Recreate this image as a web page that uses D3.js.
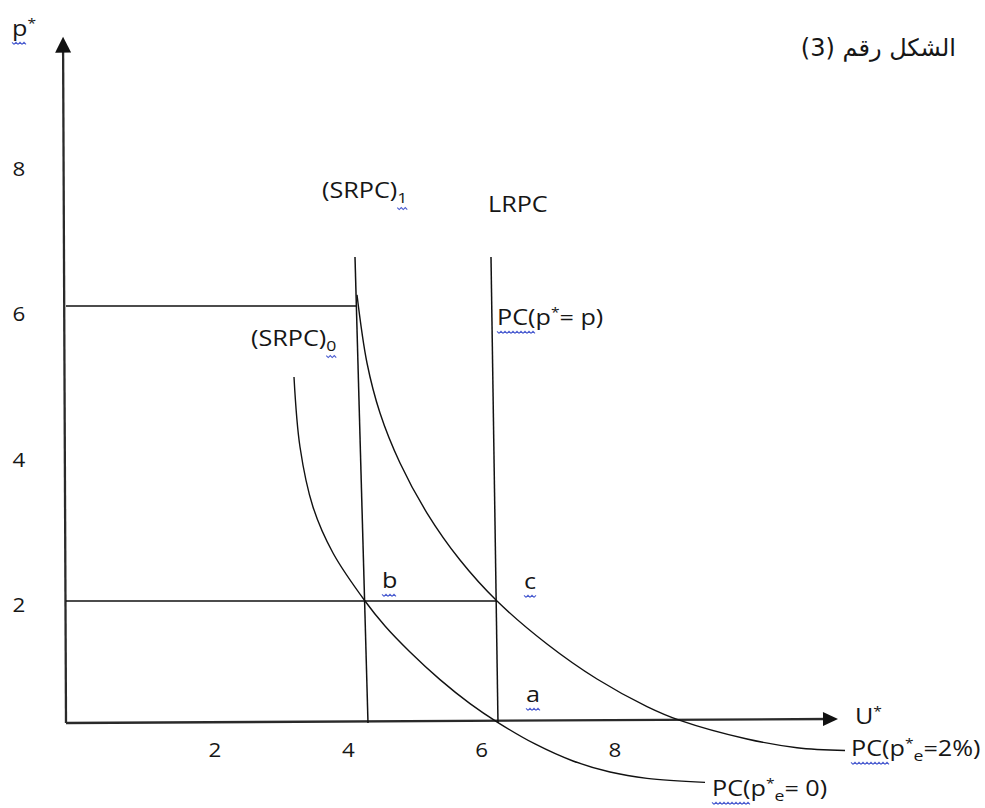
<!DOCTYPE html>
<html>
<head>
<meta charset="utf-8">
<script src="https://cdn.jsdelivr.net/npm/d3@7"></script>
<style>
  html, body { margin: 0; padding: 0; background: #fff; }
  svg { display: block; }
  text { font-family: "Open Sans", "Lato", sans-serif; fill: #161616; }
</style>
</head>
<body>
<svg id="chart" width="985" height="808"></svg>
<script>
// ---------- data (economic units) ----------
const xTickVals = [2, 4, 6, 8];
const yTickVals = [2, 4, 6, 8];

// PC(p*e = 2%) short-run Phillips curve (SRPC)1
const pc2U = [4.145, 4.295, 4.49, 4.79, 5.195, 5.69, 6.245, 6.995, 7.745, 8.495, 8.99, 9.995, 10.745, 11.465];
const pc2P = [6.15, 5.227, 4.549, 3.871, 3.193, 2.556, 2.0, 1.295, 0.721, 0.27, 0.043, -0.262, -0.405, -0.452];

// PC(p*e = 0) short-run Phillips curve (SRPC)0
const pc0U = [3.2, 3.29, 3.485, 3.785, 4.265, 4.565, 4.94, 5.39, 5.84, 6.26, 6.815, 7.385, 7.94, 8.495, 9.365];
const pc0P = [5.037, 4.088, 3.275, 2.651, 2.0, 1.59, 1.164, 0.711, 0.318, 0.007, -0.344, -0.623, -0.803, -0.907, -0.974];

// vertical guide (SRPC)1 and LRPC
const srpc1U = [4.115, 4.31];
const srpc1P = [6.662, 0];
const lrpcU = [6.155, 6.26];
const lrpcP = [6.662, 0];

// horizontal guides at p* = 6 and p* = 2
const hLevels = [6, 2];
const hEnds = [4.145, 6.245];

// axes extents
const xAxisU = [0, 11.36];
const xAxisP = [0, 0.066];
const yAxisU = [0, -0.04];
const yAxisP = [0, 9.64];

// ---------- scales ----------
const x = d3.scaleLinear().domain([0, 2, 8]).range([66, 214, 614]);
const y = d3.scaleLinear().domain([0, 2, 6, 8]).range([723, 601, 306, 158]);
// tick labels were typed slightly off the drawn grid in the original
const yLab = d3.scaleLinear().domain([2, 8]).range([605, 169]);

const svg = d3.select("#chart");
svg.append("rect").attr("width", 985).attr("height", 808).attr("fill", "#fff");

const line = d3.line().x(d => x(d[0])).y(d => y(d[1]));
const smooth = d3.line().x(d => x(d[0])).y(d => y(d[1])).curve(d3.curveCatmullRom.alpha(0.5));

const g = svg.append("g");

// axes
function arrowAxis(us, ps, len, half) {
  const x0 = x(us[0]), y0 = y(ps[0]), x1 = x(us[1]), y1 = y(ps[1]);
  const ang = Math.atan2(y1 - y0, x1 - x0);
  g.append("line").attr("x1", x0).attr("y1", y0)
    .attr("x2", x1 - Math.cos(ang) * len * 0.6).attr("y2", y1 - Math.sin(ang) * len * 0.6)
    .attr("stroke", "#2a2a2a").attr("stroke-width", 2.3);
  const bx = x1 - Math.cos(ang) * len, by = y1 - Math.sin(ang) * len;
  const nx = -Math.sin(ang) * half, ny = Math.cos(ang) * half;
  g.append("path").attr("d", `M${x1},${y1}L${bx + nx},${by + ny}L${bx - nx},${by - ny}Z`).attr("fill", "#111");
}
arrowAxis(xAxisU, xAxisP, 15, 7);
arrowAxis(yAxisU, yAxisP, 16, 8);

// guides
hLevels.forEach((lv, i) => {
  g.append("path").attr("d", line([[0, lv], [hEnds[i], lv]]))
    .attr("stroke", "#111").attr("stroke-width", 1.5).attr("fill", "none");
});
[[srpc1U, srpc1P], [lrpcU, lrpcP]].forEach(([us, ps]) => {
  g.append("path").attr("d", line(us.map((u, i) => [u, ps[i]])))
    .attr("stroke", "#111").attr("stroke-width", 1.5).attr("fill", "none");
});

// curves
[[pc2U, pc2P], [pc0U, pc0P]].forEach(([us, ps]) => {
  g.append("path").attr("d", smooth(us.map((u, i) => [u, ps[i]])))
    .attr("stroke", "#111").attr("stroke-width", 1.4).attr("fill", "none");
});

// tick labels
const TSX = 1.12;
g.selectAll(".xt").data(xTickVals).enter().append("text")
  .attr("transform", d => `translate(${x(d) + 1},757) scale(${TSX},1)`)
  .attr("text-anchor", "middle").attr("font-size", 20).text(d => d);
g.selectAll(".yt").data(yTickVals).enter().append("text")
  .attr("transform", d => `translate(19,${yLab(d) + 7}) scale(${TSX},1)`)
  .attr("text-anchor", "middle").attr("font-size", 20).text(d => d);

// rich labels
const SX = 1.2;
const squiggles = [];
function label(px, py, parts, size) {
  const t = g.append("text").attr("transform", `translate(${px},${py}) scale(${SX},1)`)
    .attr("font-size", size);
  let shift = 0;
  parts.forEach(p => {
    const [txt, kind, sq] = p;
    const ts = t.append("tspan").text(txt);
    let target = 0, fs = size;
    if (kind === "sup") { target = -size * 0.36; fs = size * 0.62; }
    if (kind === "sub") { target = size * 0.24; fs = size * 0.7; }
    ts.attr("dy", target - shift).attr("font-size", fs);
    shift = target;
    if (sq) squiggles.push({ node: ts.node(), color: sq });
  });
  return t;
}

const BLUE = "#2a3fc8";
label(12, 36, [["p", "n", BLUE], ["*", "sup"]], 21);
label(322, 198, [["(SRPC)", "n"], ["1", "sub", BLUE]], 21);
label(488, 212, [["LRPC", "n"]], 21);
label(497, 325, [["PC(", "n", BLUE], ["p", "n"], ["*", "sup"], ["= p)", "n"]], 21);
label(251, 346, [["(SRPC)", "n"], ["0", "sub", BLUE]], 21);
label(382, 588, [["b", "n", BLUE]], 21);
label(524, 589, [["c", "n", BLUE]], 21);
label(526, 702, [["a", "n", BLUE]], 21);
label(855, 724, [["U", "n"], ["*", "sup"]], 21);
label(851, 756, [["PC(", "n", BLUE], ["p", "n"], ["*", "sup"], ["e", "sub"], ["=2%)", "n"]], 21);
label(712, 796, [["PC(", "n", BLUE], ["p", "n"], ["*", "sup"], ["e", "sub"], ["= 0)", "n"]], 21);

// Arabic title
svg.append("text").attr("x", 956).attr("y", 56)
  .attr("text-anchor", "start").attr("direction", "rtl")
  .style("font-family", "'DejaVu Sans', 'Noto Sans', sans-serif")
  .attr("font-size", 24).text("الشكل رقم (3)");

// spell-check squiggles under some words
const svgNode = svg.node();
squiggles.forEach(s => {
  const bb = s.node.getBBox();
  const m = s.node.getCTM();
  const pt = svgNode.createSVGPoint();
  pt.x = bb.x; pt.y = bb.y + bb.height;
  const a = pt.matrixTransform(m);
  pt.x = bb.x + bb.width;
  const b = pt.matrixTransform(m);
  const yb = a.y;
  let d = `M${a.x},${yb}`;
  let k = 0;
  for (let xx = a.x + 2; xx <= b.x; xx += 2, k++) d += `L${xx},${yb + (k % 2 ? 0 : 2)}`;
  svg.append("path").attr("d", d).attr("stroke", s.color).attr("stroke-width", 1.1).attr("fill", "none").attr("opacity", 0.85);
});
</script>
</body>
</html>
